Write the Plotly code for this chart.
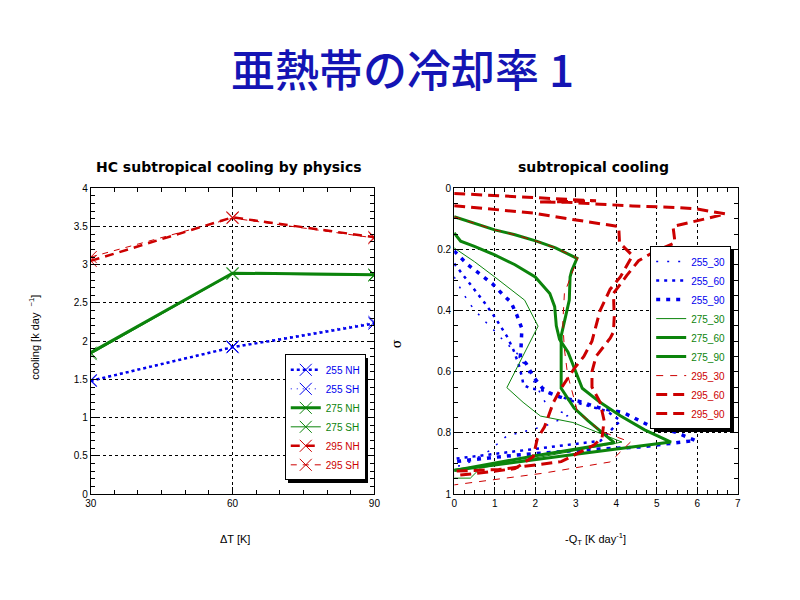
import plotly.graph_objects as go

# ---------------- data : left panel ----------------
DT = [30, 60, 90]
C255_NH = [1.48, 1.92, 2.23]
C255_SH = [1.49, 1.93, 2.25]
C275_NH = [1.85, 2.89, 2.87]
C275_SH = [1.83, 2.88, 2.86]
C295_NH = [3.05, 3.62, 3.36]
C295_SH = [3.10, 3.61, 3.35]

# ---------------- data : right panel (cooling, sigma) ----------------
Q255_30 = [0, 0.2, 0.4, 0.7, 1.0, 1.3, 1.5, 1.75, 2.0, 2.33, 2.85, 2.4, 1.9, 1.3, 0.85, 0.25, 0]
S255_30 = [0.29, 0.339, 0.381, 0.427, 0.467, 0.51, 0.53, 0.58, 0.64, 0.72, 0.74, 0.77, 0.79, 0.81, 0.86, 0.905, 0.91]

Q255_60 = [0, 0.23, 0.5, 0.76, 1.0, 1.22, 1.32, 1.47, 1.6, 1.67, 1.71, 1.87, 2.12, 2.52, 3.0, 3.77, 4.1, 3.61, 2.96, 1.5, 0]
S255_60 = [0.246, 0.285, 0.331, 0.376, 0.421, 0.465, 0.488, 0.531, 0.58, 0.616, 0.643, 0.654, 0.659, 0.675, 0.7, 0.729, 0.76, 0.826, 0.837, 0.86, 0.885]

Q255_90 = [0, 0.32, 0.63, 0.94, 1.24, 1.40, 1.55, 1.67, 1.65, 1.63, 1.78, 1.95, 2.18, 2.36, 2.68, 3.09, 3.58, 4.18, 4.83, 5.47, 5.95, 4.58, 3.04, 1.5, 0]
S255_90 = [0.205, 0.248, 0.28, 0.312, 0.353, 0.372, 0.416, 0.459, 0.52, 0.552, 0.574, 0.616, 0.654, 0.67, 0.686, 0.697, 0.718, 0.734, 0.777, 0.798, 0.825, 0.846, 0.857, 0.873, 0.894]

Q275_30 = [0, 0.5, 1.0, 1.4, 1.74, 2.07, 1.7, 1.30, 1.7, 2.13, 2.93, 3.61, 4.14, 0.65, 0.4, 0]
S275_30 = [0.195, 0.24, 0.29, 0.33, 0.366, 0.451, 0.55, 0.652, 0.7, 0.745, 0.766, 0.803, 0.83, 0.915, 0.948, 0.948]

Q275_60 = [0, 0.5, 1.0, 1.5, 2.03, 2.5, 3.03, 2.9, 2.86, 2.84, 2.75, 2.64, 2.64, 2.64, 2.96, 3.3, 3.61, 3.95, 2.0, 0]
S275_60 = [0.093, 0.115, 0.136, 0.152, 0.173, 0.195, 0.229, 0.27, 0.29, 0.366, 0.42, 0.483, 0.55, 0.654, 0.719, 0.76, 0.794, 0.832, 0.875, 0.923]

Q275_90 = [0, 0.16, 0.5, 1.0, 1.5, 2.0, 2.36, 2.48, 2.52, 2.6, 2.81, 2.97, 3.16, 3.6, 4.1, 4.7, 5.35, 3.0, 0]
S275_90 = [0.146, 0.173, 0.19, 0.218, 0.25, 0.29, 0.344, 0.387, 0.45, 0.494, 0.536, 0.59, 0.654, 0.7, 0.744, 0.79, 0.83, 0.87, 0.922]

Q295_30 = [0, 0.5, 1.0, 1.5, 2.03, 2.5, 3.05, 2.9, 2.72, 2.68, 2.72, 2.8, 3.04, 3.61, 4.35, 3.85, 2.19, 0]
S295_30 = [0.093, 0.115, 0.136, 0.152, 0.173, 0.195, 0.229, 0.28, 0.344, 0.44, 0.526, 0.61, 0.729, 0.794, 0.83, 0.895, 0.932, 0.97]

Q295_60 = [0, 1.95, 2.92, 4.06, 4.08, 4.4, 4.1, 3.85, 3.6, 3.5, 3.4, 3.2, 2.96, 2.64, 2.45, 2.23, 2.05, 1.95, 1.5, 0.5, 0]
S295_60 = [0.057, 0.081, 0.102, 0.125, 0.178, 0.22, 0.29, 0.33, 0.4, 0.45, 0.5, 0.55, 0.59, 0.654, 0.7, 0.78, 0.82, 0.878, 0.917, 0.933, 0.94]

Q295_90 = [0, 2.9, 3.5, 2.1, 2.8, 3.6, 4.4, 5.5, 6.0, 6.7, 6.3, 5.4, 5.45, 5.2, 4.9, 4.55, 4.26, 3.93, 3.95, 3.93, 3.85, 3.5, 3.4, 3.4, 3.6, 3.7, 3.65, 3.45, 2.64, 1.1, 0]
S295_90 = [0.017, 0.036, 0.041, 0.045, 0.046, 0.052, 0.058, 0.063, 0.068, 0.084, 0.097, 0.125, 0.178, 0.193, 0.21, 0.237, 0.285, 0.344, 0.42, 0.47, 0.49, 0.55, 0.6, 0.65, 0.7, 0.76, 0.815, 0.84, 0.894, 0.92, 0.925]

BLUE = "#0000EE"
GREEN = "#0C840C"
RED = "#CC0000"

W, H = 800, 600


def px_x(p):
    return p / W


def px_y(p):
    return 1 - p / H


def lname(text, color):
    return f"<span style='color:{color}'>{text}</span>"


fig = go.Figure()

# ---------------- left panel traces ----------------
left_series = [
    ("255 NH", C255_NH, BLUE, 2.5, "dot"),
    ("255 SH", C255_SH, BLUE, 1, "1px,5px"),
    ("275 NH", C275_NH, GREEN, 3, "solid"),
    ("275 SH", C275_SH, GREEN, 1, "solid"),
    ("295 NH", C295_NH, RED, 2.5, "9px,6px"),
    ("295 SH", C295_SH, RED, 1, "6px,6px"),
]
for name, vals, col, lw, dash in left_series:
    fig.add_trace(go.Scatter(
        x=DT, y=vals, mode="lines+markers", name=lname(name, col),
        line=dict(color=col, width=lw, dash=dash),
        marker=dict(symbol="x-thin", size=12, line=dict(color=col, width=1)),
        xaxis="x", yaxis="y", legend="legend",
    ))

# ---------------- right panel traces ----------------
right_series = [
    ("255_30", Q255_30, S255_30, BLUE, 1.5, "2px,9px"),
    ("255_60", Q255_60, S255_60, BLUE, 2.5, "3px,5px"),
    ("255_90", Q255_90, S255_90, BLUE, 3.5, "4px,6px"),
    ("275_30", Q275_30, S275_30, GREEN, 1, "solid"),
    ("275_60", Q275_60, S275_60, GREEN, 3, "solid"),
    ("275_90", Q275_90, S275_90, GREEN, 3, "solid"),
    ("295_30", Q295_30, S295_30, RED, 1, "7px,7px"),
    ("295_60", Q295_60, S295_60, RED, 3, "11px,6px"),
    ("295_90", Q295_90, S295_90, RED, 3, "11px,6px"),
]
for name, q, s, col, lw, dash in right_series:
    fig.add_trace(go.Scatter(
        x=q, y=s, mode="lines", name=lname(name, col),
        line=dict(color=col, width=lw, dash=dash),
        xaxis="x2", yaxis="y2", legend="legend2",
    ))

TICKFONT = dict(family="Liberation Sans, Arial, sans-serif", size=10, color="black")
axis_common = dict(
    showline=True, linecolor="black", linewidth=1, mirror="allticks",
    ticks="inside", ticklen=7, tickcolor="black", tickwidth=1,
    showgrid=True, gridcolor="black", gridwidth=1, griddash="dot",
    zeroline=False, tickfont=TICKFONT, fixedrange=True,
)

LX0, LX1 = 86, 374
RX0, RX1 = 455, 743
PY0, PY1 = 186, 498

LEGFONT = dict(family="Liberation Sans, Arial, sans-serif", size=10, color="black")

fig.update_layout(
    width=W, height=H,
    margin=dict(l=0, r=0, t=0, b=0),
    paper_bgcolor="white", plot_bgcolor="white",
    showlegend=True,
    font=dict(family="Liberation Sans, Arial, sans-serif", size=10, color="black"),
    xaxis=dict(domain=[px_x(LX0), px_x(LX1)], range=[30, 90], tickvals=[30, 60, 90],
               minor=dict(dtick=5, ticks="inside", ticklen=4, tickcolor="black", showgrid=False),
               anchor="y", **axis_common),
    yaxis=dict(domain=[px_y(PY1), px_y(PY0)], range=[0, 4], dtick=0.5,
               minor=dict(dtick=0.1, ticks="inside", ticklen=4, tickcolor="black", showgrid=False),
               anchor="x", **axis_common),
    xaxis2=dict(domain=[px_x(RX0), px_x(RX1)], range=[0, 7], dtick=1,
                minor=dict(dtick=0.25, ticks="inside", ticklen=4, tickcolor="black", showgrid=False),
                anchor="y2", **axis_common),
    yaxis2=dict(domain=[px_y(PY1), px_y(PY0)], range=[1, 0], dtick=0.2,
                minor=dict(dtick=0.05, ticks="inside", ticklen=4, tickcolor="black", showgrid=False),
                anchor="x2", **axis_common),
    legend=dict(x=px_x(283), y=px_y(484), xanchor="left", yanchor="bottom",
                bgcolor="white", bordercolor="black", borderwidth=1,
                font=LEGFONT, itemwidth=30, tracegroupgap=0),
    legend2=dict(x=px_x(654), y=px_y(245), xanchor="left", yanchor="top",
                 bgcolor="white", bordercolor="black", borderwidth=1,
                 font=LEGFONT, itemwidth=30, tracegroupgap=0),
)

ANNFONT = dict(family="Liberation Sans, Arial, sans-serif", size=11, color="black")
SUBFONT = dict(family="DejaVu Sans, sans-serif", size=14, color="black", weight="bold")

fig.add_annotation(text="亜熱帯の冷却率 1", xref="paper", yref="paper",
                   x=px_x(403), y=px_y(63), showarrow=False, xanchor="center", yanchor="middle",
                   font=dict(family="Noto Sans CJK JP", size=44, color="#1414B4", weight=500))
fig.add_annotation(text="HC subtropical cooling by physics", xref="paper", yref="paper",
                   x=px_x(226), y=px_y(164), showarrow=False, xanchor="center", yanchor="middle",
                   font=SUBFONT)
fig.add_annotation(text="subtropical cooling", xref="paper", yref="paper",
                   x=px_x(596), y=px_y(164), showarrow=False, xanchor="center", yanchor="middle",
                   font=SUBFONT)
fig.add_annotation(text="ΔT [K]", xref="paper", yref="paper",
                   x=px_x(232), y=px_y(544), showarrow=False, xanchor="center", yanchor="middle",
                   font=ANNFONT)
fig.add_annotation(text="cooling [k day  <sup>−1</sup>]", xref="paper", yref="paper",
                   x=px_x(29), y=px_y(338), showarrow=False, xanchor="center", yanchor="middle",
                   textangle=-90, font=ANNFONT)
fig.add_annotation(text="-Q<sub>T</sub> [K day<sup>-1</sup>]", xref="paper", yref="paper",
                   x=px_x(598), y=px_y(544), showarrow=False, xanchor="center", yanchor="middle",
                   font=ANNFONT)
fig.add_annotation(text="σ", xref="paper", yref="paper",
                   x=px_x(396), y=px_y(345), showarrow=False, xanchor="center", yanchor="middle",
                   textangle=-90, font=dict(family="DejaVu Serif, serif", size=13, color="black"))

# page tweaks: no body margin, and a drop shadow behind each legend box
POST_JS = """
document.body.style.margin='0';
document.body.style.overflow='hidden';
(function(){
  var tries = 0;
  function addShadows(){
    var gd = document.getElementById('{plot_id}');
    var bgs = gd ? gd.querySelectorAll('g.legend rect.bg, g.legend2 rect.bg') : [];
    if(!bgs.length){ if(tries++ < 50){ setTimeout(addShadows, 50); } return; }
    bgs.forEach(function(bg){
      if(bg.previousSibling && bg.previousSibling.classList &&
         bg.previousSibling.classList.contains('legshadow')) return;
      var sh = bg.cloneNode(false);
      sh.setAttribute('class', 'legshadow');
      sh.style.fill = 'black';
      sh.style.stroke = 'none';
      sh.style.fillOpacity = '1';
      var t = bg.getAttribute('transform') || '';
      sh.setAttribute('transform', t + ' translate(3,3)');
      bg.parentNode.insertBefore(sh, bg);
    });
  }
  addShadows();
})();
"""

fig.write_html(
    "out.html",
    config={"displayModeBar": False},
    post_script=POST_JS,
)
